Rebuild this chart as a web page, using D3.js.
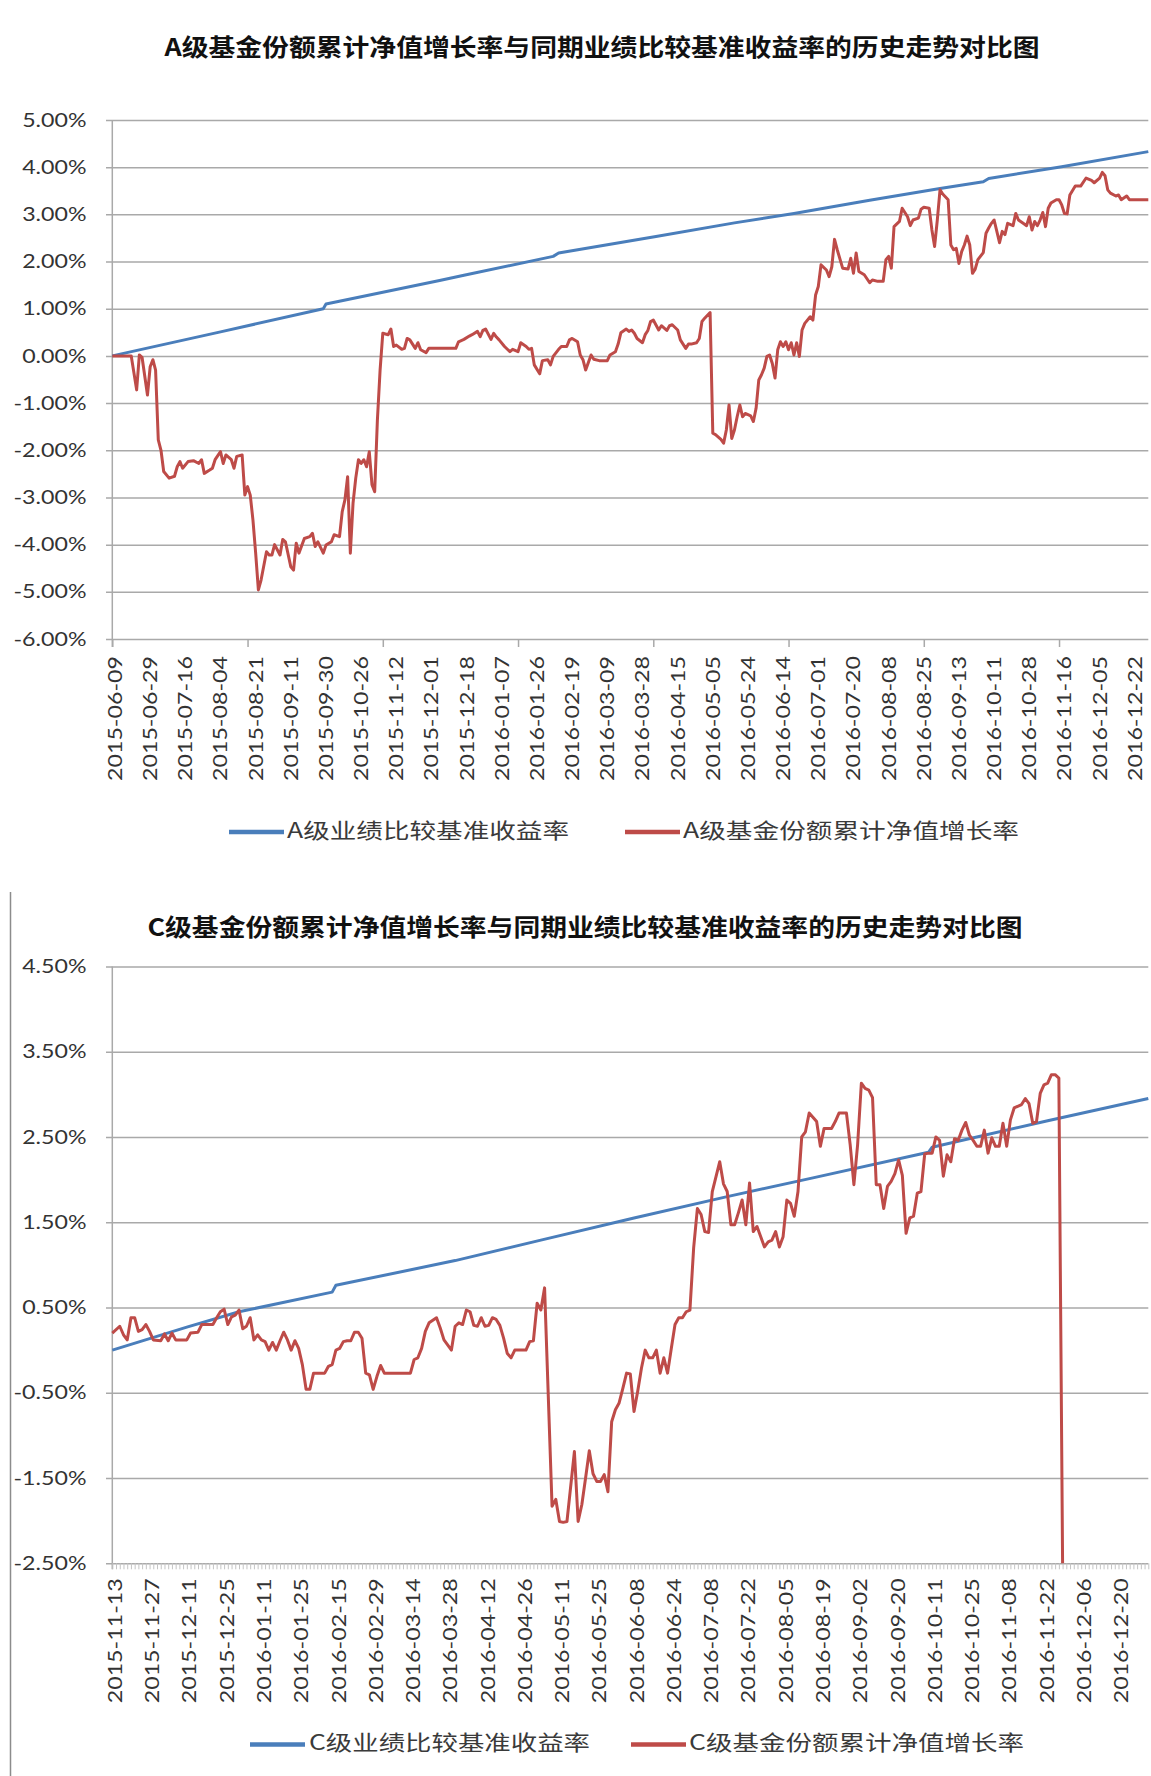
<!DOCTYPE html>
<html lang="zh-CN">
<head>
<meta charset="UTF-8">
<title>基金份额累计净值增长率与同期业绩比较基准收益率的历史走势对比图</title>
<script src="https://cdn.jsdelivr.net/npm/d3@7/dist/d3.min.js"></script>
<style>
  body { margin: 0; background: #fff; }
  svg { display: block; }
</style>
</head>
<body>
<svg width="1151" height="1776"></svg>
<script>
// ---- A级: category labels (every 13th trading day), y ticks, series [day index, %] ----
var datesA = ["2015-06-09","2015-06-29","2015-07-16","2015-08-04","2015-08-21","2015-09-11","2015-09-30",
  "2015-10-26","2015-11-12","2015-12-01","2015-12-18","2016-01-07","2016-01-26","2016-02-19","2016-03-09",
  "2016-03-28","2016-04-15","2016-05-05","2016-05-24","2016-06-14","2016-07-01","2016-07-20","2016-08-08",
  "2016-08-25","2016-09-13","2016-10-11","2016-10-28","2016-11-16","2016-12-05","2016-12-22"];
var yTicksA = [5, 4, 3, 2, 1, 0, -1, -2, -3, -4, -5, -6];
var benchA = [[0,0],[40,0.51],[78,1.0],[79,1.10],[96,1.30],[121,1.60],[130,1.71],
  [163,2.11],[165,2.18],[201,2.53],[230,2.82],[252,3.02],[280,3.30],[306,3.55],[322,3.69],[324,3.76],
  [351,4.01],[383,4.33]];
var navA = [[0,0],[7,0],[9,-0.72],[10,0.02],[11,-0.03],[13,-0.83],[14,-0.23],[15,-0.08],[16,-0.30],[17,-1.78],
  [18,-2.0],[19,-2.45],[21,-2.59],[23,-2.55],[24,-2.35],[25,-2.24],[26,-2.38],[28,-2.24],[30,-2.22],[32,-2.28],
  [33,-2.2],[34,-2.49],[36,-2.42],[37,-2.38],[38,-2.2],[40,-2.03],[41,-2.28],[42,-2.1],[44,-2.2],[45,-2.38],
  [46,-2.13],[48,-2.1],[49,-2.95],[50,-2.77],[51,-2.95],[52,-3.48],[53,-4.18],[54,-4.96],[55,-4.75],[57,-4.15],
  [58,-4.22],[59,-4.22],[60,-4.0],[62,-4.22],[63,-3.89],[64,-3.94],[66,-4.47],[67,-4.54],[68,-3.97],[69,-4.18],
  [71,-3.87],[73,-3.83],[74,-3.76],[75,-4.04],[76,-3.94],[78,-4.18],[79,-4.01],[81,-3.94],[82,-3.79],[84,-3.83],
  [85,-3.30],[86,-3.05],[87,-2.56],[88,-4.18],[89,-3.12],[90,-2.59],[91,-2.2],[92,-2.28],[93,-2.2],[94,-2.35],
  [95,-2.03],[96,-2.73],[97,-2.88],[98,-1.36],[99,-0.30],[100,0.48],[102,0.45],[103,0.57],[104,0.2],[105,0.23],
  [107,0.14],[108,0.16],[109,0.37],[110,0.34],[112,0.16],[113,0.28],[114,0.13],[116,0.07],[117,0.16],[127,0.16],
  [128,0.30],[130,0.35],[132,0.42],[133,0.45],[135,0.52],[136,0.41],[137,0.54],[138,0.57],[140,0.35],[141,0.48],
  [142,0.40],[143,0.34],[145,0.2],[147,0.09],[148,0.14],[150,0.09],[151,0.28],[153,0.2],[154,0.14],[155,0.16],
  [156,-0.19],[158,-0.38],[159,-0.1],[161,-0.08],[162,-0.19],[163,-0.01],[165,0.14],[166,0.2],[168,0.2],[169,0.34],
  [170,0.37],[172,0.30],[173,0.02],[174,-0.08],[175,-0.30],[176,-0.14],[177,0.02],[178,-0.07],[180,-0.1],[183,-0.1],
  [184,0.02],[186,0.09],[187,0.25],[188,0.49],[190,0.57],[191,0.52],[192,0.55],[193,0.48],[194,0.37],[196,0.28],
  [197,0.45],[198,0.54],[199,0.73],[200,0.76],[202,0.55],[203,0.64],[205,0.54],[206,0.64],[207,0.66],[209,0.55],
  [210,0.34],[212,0.16],[213,0.25],[214,0.25],[216,0.28],[217,0.37],[218,0.73],[219,0.8],[221,0.92],[222,-1.64],
  [223,-1.67],[225,-1.77],[226,-1.85],[227,-1.57],[228,-1.04],[229,-1.75],[230,-1.57],[231,-1.29],[232,-1.04],
  [233,-1.29],[234,-1.22],[236,-1.27],[237,-1.39],[238,-1.11],[239,-0.51],[240,-0.4],[241,-0.26],[242,-0.01],
  [243,0.02],[244,-0.16],[245,-0.47],[246,0.13],[247,0.3],[248,0.2],[249,0.30],[250,0.13],[251,0.28],[252,0.02],
  [253,0.28],[254,-0.01],[255,0.55],[256,0.69],[258,0.83],[259,0.76],[260,1.29],[261,1.47],[262,1.93],[264,1.82],
  [265,1.68],[266,1.89],[267,2.47],[268,2.25],[270,1.86],[272,1.84],[273,2.07],[274,1.75],[275,2.18],[276,1.79],
  [278,1.72],[280,1.55],[281,1.61],[283,1.58],[285,1.58],[286,2.04],[287,2.11],[288,1.86],[289,2.74],[291,2.85],
  [292,3.13],[294,2.95],[295,2.76],[296,2.88],[298,2.92],[299,3.11],[300,3.15],[302,3.13],[303,2.67],[304,2.32],
  [305,2.88],[306,3.52],[307,3.43],[309,3.31],[310,2.35],[311,2.25],[312,2.28],[313,1.96],[314,2.21],[315,2.35],
  [316,2.54],[317,2.35],[318,1.75],[319,1.84],[320,2.04],[322,2.19],[323,2.6],[324,2.71],[325,2.81],[326,2.88],
  [328,2.4],[329,2.64],[330,2.57],[331,2.81],[333,2.76],[334,3.02],[335,2.88],[337,2.8],[338,2.76],[339,2.95],
  [340,2.67],[341,2.85],[342,2.76],[343,2.88],[344,3.04],[345,2.74],[346,3.13],[347,3.24],[349,3.31],[350,3.31],
  [351,3.2],[352,3.02],[353,3.01],[354,3.41],[356,3.6],[358,3.6],[360,3.77],[362,3.72],[363,3.67],[365,3.77],
  [366,3.89],[367,3.82],[368,3.52],[369,3.45],[371,3.39],[372,3.41],[373,3.31],[375,3.39],[376,3.31],[383,3.31]];

// ---- C级: category labels (every 10th trading day), y ticks, series ----
var datesC = ["2015-11-13","2015-11-27","2015-12-11","2015-12-25","2016-01-11","2016-01-25","2016-02-15",
  "2016-02-29","2016-03-14","2016-03-28","2016-04-12","2016-04-26","2016-05-11","2016-05-25","2016-06-08",
  "2016-06-24","2016-07-08","2016-07-22","2016-08-05","2016-08-19","2016-09-02","2016-09-20","2016-10-11",
  "2016-10-25","2016-11-08","2016-11-22","2016-12-06","2016-12-20"];
var yTicksC = [4.5, 3.5, 2.5, 1.5, 0.5, -0.5, -1.5, -2.5];
var benchC = [[0,0],[20,0.27],[34,0.45],[59,0.68],[60,0.76],[92,1.05],[115,1.29],[140,1.55],[165,1.80],
  [188,2.02],[219,2.32],[220,2.38],[251,2.69],[278,2.95]];
var navC = [[0,0.20],[2,0.28],[3,0.18],[4,0.12],[5,0.38],[6,0.38],[7,0.22],[8,0.24],[9,0.30],[10,0.22],[11,0.12],
  [13,0.11],[14,0.19],[15,0.11],[16,0.20],[17,0.12],[20,0.12],[21,0.20],[23,0.21],[24,0.30],[27,0.30],[28,0.38],
  [29,0.45],[30,0.48],[31,0.30],[32,0.39],[33,0.41],[34,0.47],[35,0.25],[36,0.28],[37,0.38],[38,0.12],[39,0.18],
  [40,0.12],[41,0.10],[42,0.0],[43,0.09],[44,0.0],[45,0.11],[46,0.21],[47,0.12],[48,0.0],[49,0.11],[50,0.02],
  [51,-0.17],[52,-0.46],[53,-0.46],[54,-0.27],[57,-0.27],[58,-0.19],[59,-0.17],[60,0.0],[61,0.02],[62,0.10],
  [63,0.11],[64,0.11],[65,0.21],[66,0.21],[67,0.14],[68,-0.27],[69,-0.29],[70,-0.46],[71,-0.31],[72,-0.18],
  [73,-0.27],[80,-0.27],[81,-0.11],[82,-0.09],[83,0.02],[84,0.22],[85,0.32],[87,0.38],[88,0.26],[89,0.12],[91,0.0],
  [92,0.28],[93,0.32],[94,0.30],[95,0.47],[96,0.45],[97,0.29],[98,0.28],[99,0.38],[100,0.28],[101,0.29],[102,0.38],
  [103,0.36],[104,0.29],[105,0.14],[106,-0.04],[107,-0.09],[108,0.0],[111,0.0],[112,0.10],[113,0.11],[114,0.55],
  [115,0.47],[116,0.73],[118,-1.83],[119,-1.75],[120,-2.01],[121,-2.02],[122,-2.01],[124,-1.19],[125,-2.01],
  [126,-1.81],[127,-1.5],[128,-1.18],[129,-1.45],[130,-1.54],[131,-1.54],[132,-1.46],[133,-1.66],[134,-0.84],
  [135,-0.70],[136,-0.62],[137,-0.45],[138,-0.27],[139,-0.28],[140,-0.72],[141,-0.48],[142,-0.21],[143,0.0],
  [144,-0.09],[145,-0.09],[146,0.0],[147,-0.27],[148,-0.09],[149,-0.27],[150,0.02],[151,0.30],[152,0.38],
  [153,0.38],[154,0.45],[155,0.47],[156,1.2],[157,1.66],[158,1.59],[159,1.39],[160,1.38],[161,1.86],[163,2.21],
  [164,1.95],[165,1.86],[166,1.47],[167,1.47],[168,1.61],[169,1.76],[170,1.47],[171,1.96],[172,1.39],[173,1.45],
  [174,1.33],[175,1.21],[176,1.27],[177,1.29],[178,1.39],[179,1.21],[180,1.33],[181,1.76],[182,1.72],[183,1.57],
  [184,1.86],[185,2.5],[186,2.56],[187,2.78],[189,2.68],[190,2.39],[191,2.6],[193,2.6],[194,2.68],[195,2.78],
  [197,2.78],[198,2.41],[199,1.94],[200,2.41],[201,3.13],[202,3.07],[203,3.05],[204,2.96],[205,1.94],[206,1.94],
  [207,1.66],[208,1.92],[209,1.98],[210,2.07],[211,2.23],[212,2.05],[213,1.37],[214,1.55],[215,1.57],[216,1.84],
  [217,1.86],[218,2.30],[219,2.31],[220,2.31],[221,2.5],[222,2.46],[223,2.04],[224,2.29],[225,2.21],[226,2.48],
  [227,2.46],[228,2.58],[229,2.67],[230,2.52],[231,2.46],[232,2.39],[233,2.39],[234,2.58],[235,2.31],[236,2.49],
  [237,2.39],[238,2.39],[239,2.66],[240,2.39],[241,2.70],[242,2.84],[244,2.88],[245,2.95],[246,2.89],[247,2.66],
  [248,2.68],[249,3.01],[250,3.11],[251,3.13],[252,3.23],[253,3.23],[254,3.19],[255,-2.5]];

var svg = d3.select("svg");
var X0 = 112.3, X1 = 1148.3, GRID_X = 106;
var BLUE = "#4A7EBB", RED = "#BE4B48", GRID = "#a9a9a9";

function stretch(sel, w) {
  sel.attr("textLength", w).attr("lengthAdjust", "spacingAndGlyphs");
}

function drawChart(c) {
  var x = d3.scaleLinear().domain([0, c.count - 1]).range([X0, X1]);
  var y = d3.scaleLinear().domain([d3.min(c.yTicks), d3.max(c.yTicks)]).range([c.bottom, c.top]);

  // title
  svg.append("text")
    .attr("x", c.titleX).attr("y", c.titleY).attr("dy", "0.36em")
    .attr("text-anchor", "middle")
    .style("font-family", "'Noto Sans CJK SC'").style("font-weight", "bold").style("font-size", "24px")
    .attr("fill", "#111")
    .text(c.title)
    .call(stretch, 875);

  // gridlines and y labels
  var yAxis = svg.append("g")
    .attr("transform", "translate(" + GRID_X + ",0)")
    .call(d3.axisLeft(y).tickValues(c.yTicks)
      .tickSize(-(X1 - GRID_X)).tickPadding(19.5)
      .tickFormat(function(d) { return d.toFixed(2) + "%"; }));
  yAxis.select(".domain").remove();
  yAxis.selectAll("line").attr("stroke", GRID).attr("stroke-width", 1.5);
  var yText = yAxis.selectAll("text")
    .style("font-family", "Lato").style("font-size", "19px").attr("fill", "#333");
  var refW = yText.filter(function(d) { return d === d3.min(c.yTicks); }).node().getComputedTextLength();
  yText.each(function() {
    d3.select(this).call(stretch, this.getComputedTextLength() * 73 / refW);
  });

  // vertical axis line
  svg.append("line")
    .attr("x1", X0).attr("x2", X0).attr("y1", c.top).attr("y2", c.bottom + c.tickLen)
    .attr("stroke", GRID).attr("stroke-width", 1.5);

  // category tick marks
  var ticks = svg.append("g")
    .attr("transform", "translate(0," + c.bottom + ")")
    .call(d3.axisBottom(x).tickValues(d3.range(0, c.count, c.tickEvery)).tickSize(c.tickLen).tickFormat(""));
  ticks.select(".domain").remove();
  ticks.selectAll("line").attr("stroke", c.tickColor).attr("stroke-width", c.tickWidth);

  // date labels
  var labels = svg.append("g")
    .attr("transform", "translate(0," + c.bottom + ")")
    .call(d3.axisBottom(x)
      .tickValues(c.dates.map(function(d, i) { return i * c.labelEvery; }))
      .tickSize(0)
      .tickFormat(function(d, i) { return c.dates[i]; }));
  labels.select(".domain").remove();
  labels.selectAll("text")
    .attr("transform", "rotate(-90)")
    .attr("text-anchor", "end")
    .attr("x", -c.labelGap).attr("y", 0).attr("dy", "0.48em")
    .style("font-family", "Lato").style("font-size", "19px").attr("fill", "#333")
    .call(stretch, 125);

  // series
  var line = d3.line().x(function(d) { return x(d[0]); }).y(function(d) { return y(d[1]); });
  svg.append("path").datum(c.bench)
    .attr("d", line).attr("fill", "none").attr("stroke", BLUE)
    .attr("stroke-width", 3).attr("stroke-linejoin", "round");
  svg.append("path").datum(c.nav)
    .attr("d", line).attr("fill", "none").attr("stroke", RED)
    .attr("stroke-width", 3).attr("stroke-linejoin", "round");

  // legend
  c.legend.forEach(function(it) {
    svg.append("line")
      .attr("x1", it.x1).attr("x2", it.x2).attr("y1", c.legendY + 2).attr("y2", c.legendY + 2)
      .attr("stroke", it.color).attr("stroke-width", 4.5);
    svg.append("text")
      .attr("x", it.tx).attr("y", c.legendY).attr("dy", "0.36em")
      .style("font-family", "'Noto Sans CJK SC'").style("font-size", "21px").attr("fill", "#3a3a3a")
      .text(it.label)
      .call(stretch, it.w);
  });
}

drawChart({
  title: "A级基金份额累计净值增长率与同期业绩比较基准收益率的历史走势对比图",
  titleX: 602, titleY: 47,
  top: 120, bottom: 639,
  count: 384, yTicks: yTicksA, dates: datesA, labelEvery: 13, labelGap: 17,
  tickEvery: 50, tickLen: 8, tickColor: GRID, tickWidth: 1.5,
  bench: benchA, nav: navA,
  legendY: 830,
  legend: [
    { x1: 229, x2: 284, tx: 287, w: 282, color: BLUE, label: "A级业绩比较基准收益率" },
    { x1: 625, x2: 680, tx: 683, w: 336, color: RED, label: "A级基金份额累计净值增长率" }
  ]
});

// frame edge on the left of the second chart
svg.append("line")
  .attr("x1", 10.5).attr("x2", 10.5).attr("y1", 892).attr("y2", 1776)
  .attr("stroke", "#8c8c8c").attr("stroke-width", 1.5);

drawChart({
  title: "C级基金份额累计净值增长率与同期业绩比较基准收益率的历史走势对比图",
  titleX: 585, titleY: 927,
  top: 966.4, bottom: 1563.3,
  count: 279, yTicks: yTicksC, dates: datesC, labelEvery: 10, labelGap: 15,
  tickEvery: 1, tickLen: 6, tickColor: "#c4c4c4", tickWidth: 1,
  bench: benchC, nav: navC,
  legendY: 1742.5,
  legend: [
    { x1: 250, x2: 305, tx: 309, w: 281, color: BLUE, label: "C级业绩比较基准收益率" },
    { x1: 631, x2: 686, tx: 689, w: 335, color: RED, label: "C级基金份额累计净值增长率" }
  ]
});
</script>
</body>
</html>
